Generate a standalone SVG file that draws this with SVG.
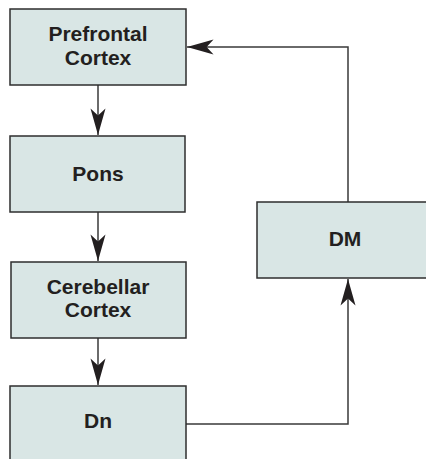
<svg xmlns="http://www.w3.org/2000/svg" width="426" height="459" viewBox="0 0 426 459">
<style>
.box{fill:#d9e6e5;stroke:#2e2e2e;stroke-width:1.5}
.lbl{font-family:"Liberation Sans",Arial,Helvetica,sans-serif;font-weight:bold;font-size:21px;fill:#231f20;text-anchor:middle}
.conn{fill:none;stroke:#3a3a3a;stroke-width:1.5}
</style>
<defs>
<marker id="ah" markerUnits="userSpaceOnUse" markerWidth="30" markerHeight="20" viewBox="-24 -8 26 16" refX="0" refY="0" orient="auto">
<path d="M0,0 L-23,-6.5 L-17,0 L-23,6.5 Z" fill="#231f20"/>
</marker>
</defs>
<rect x="0" y="0" width="426" height="459" fill="#ffffff"/>
<g id="connectors">
<path class="conn" d="M98,85 V135" marker-end="url(#ah)"/>
<path class="conn" d="M98,212 V261" marker-end="url(#ah)"/>
<path class="conn" d="M98,338 V385" marker-end="url(#ah)"/>
<path class="conn" d="M186,424 H348 V279" marker-end="url(#ah)"/>
<path class="conn" d="M348,202 V47 H187" marker-end="url(#ah)"/>
</g>
<g id="prefrontal">
<rect class="box" x="10" y="9" width="176" height="76"/>
<text class="lbl" x="98" y="41">Prefrontal</text>
<text class="lbl" x="98" y="65">Cortex</text>
</g>
<g id="pons">
<rect class="box" x="10" y="136" width="175" height="76"/>
<text class="lbl" x="98" y="181">Pons</text>
</g>
<g id="cerebellar">
<rect class="box" x="11" y="262" width="175" height="76"/>
<text class="lbl" x="98" y="294">Cerebellar</text>
<text class="lbl" x="98" y="317">Cortex</text>
</g>
<g id="dn">
<rect class="box" x="10" y="386" width="176" height="80"/>
<text class="lbl" x="98" y="428">Dn</text>
</g>
<g id="dm">
<rect class="box" x="257" y="202" width="180" height="76"/>
<text class="lbl" x="345" y="246">DM</text>
</g>
</svg>
